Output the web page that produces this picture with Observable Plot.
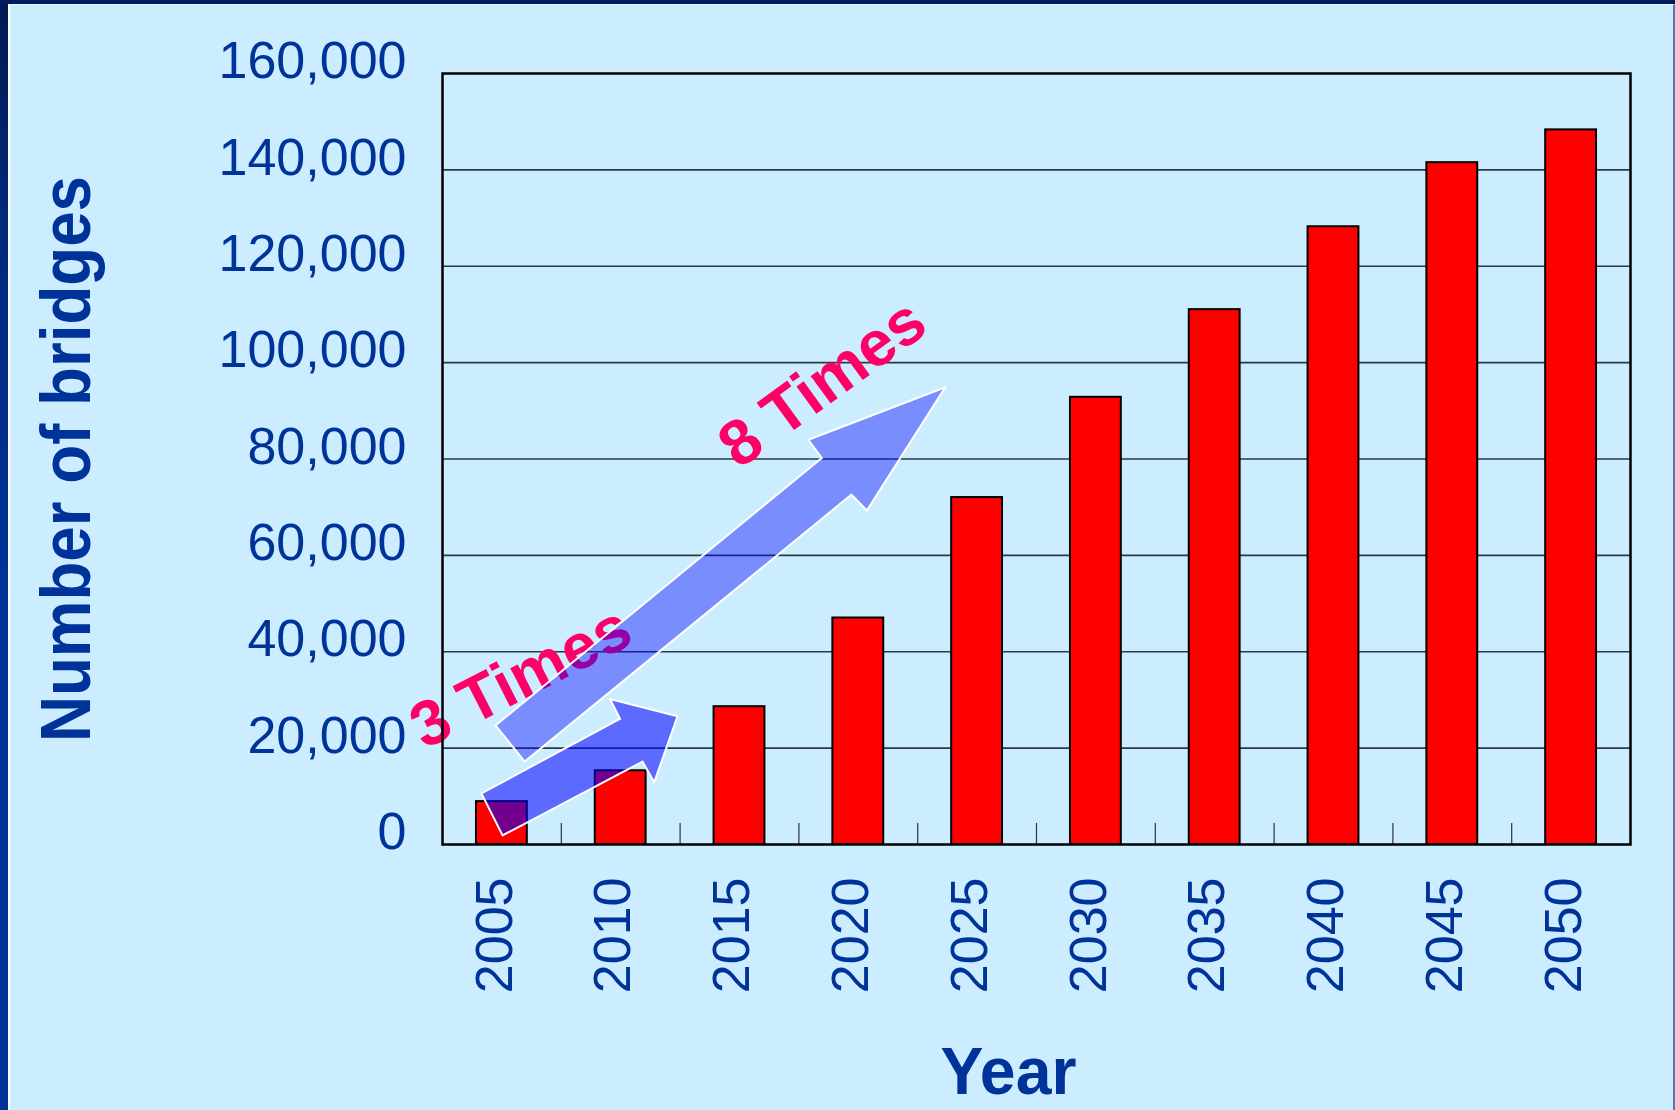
<!DOCTYPE html>
<html><head><meta charset="utf-8">
<script src="https://cdn.jsdelivr.net/npm/d3@7"></script>
<script src="https://cdn.jsdelivr.net/npm/@observablehq/plot@0.6"></script>
<style>
html,body{margin:0;padding:0;background:#CCECFF;}
#wrap{position:relative;width:1675px;height:1110px;overflow:hidden;
  background:linear-gradient(to bottom,#001a50 0%,#00297a 20%,#003399 55%,#003399 100%);}
#panel{position:absolute;left:8px;top:4px;right:0;bottom:0;background:#CCECFF;
  border-left:2px solid #ffffff;border-top:1px solid #e8f4ff;border-right:2px solid #5a78b0;box-sizing:border-box;}
#topband{position:absolute;left:0;top:0;right:0;height:4px;background:#001f5c;}
#chart{position:absolute;left:0;top:0;}
</style></head><body>
<div id="wrap"><div id="topband"></div><div id="panel"></div><div id="chart"></div></div>
<script>
// ---- data ----
const years   = [2005, 2010, 2015, 2020, 2025, 2030, 2035, 2040, 2045, 2050];
const bridges = [8900, 15300, 28600, 47000, 72000, 92800, 111000, 128200, 141500, 148300];
const yTicks  = [0, 20000, 40000, 60000, 80000, 100000, 120000, 140000, 160000];
const gridValues = [20000, 40000, 60000, 80000, 100000, 120000, 140000];
const tickBoundaries = [2007.5, 2012.5, 2017.5, 2022.5, 2027.5, 2032.5, 2037.5, 2042.5, 2047.5];

// block arrows (outline vertices in year / value units)
const bigArrowX   = [2004.73, 2018.46, 2017.90, 2023.66, 2020.36, 2019.71, 2005.96];
const bigArrowY   = [24700, 80200, 84000, 94900, 69300, 72600, 17200];
const smallArrowX = [2005.03, 2004.14, 2009.97, 2009.55, 2012.39, 2011.41, 2010.92];
const smallArrowY = [1900, 10600, 26100, 30200, 26600, 12900, 17200];

// annotation labels
const noteText  = ["3 Times", "8 Times"];
const noteX     = [2005.8, 2018.5];
const noteY     = [34600, 95600];
const noteAngle = [-27, -36];

const yTitle = "Number of bridges";
const xTitle = "Year";

// ---- build tables ----
const bars = years.map((y, i) => ({year: y, value: bridges[i]}));
const bigArrow = bigArrowX.map((x, i) => ({x, y: bigArrowY[i]}));
const smallArrow = smallArrowX.map((x, i) => ({x, y: smallArrowY[i]}));
const notes = noteText.map((t, i) => ({t, x: noteX[i], y: noteY[i], a: noteAngle[i]}));

const W = 1675, H = 1110;
const mTop = 73, mBottom = 266, mLeft = 442, mRight = 45;
const yMax = 160000;
const innerH = H - mTop - mBottom;
const tickLen = 21 * yMax / innerH;
const halfBar = 1.07;
const blue = "#003399";
const font = "'Liberation Sans', Arial, sans-serif";

const plot = Plot.plot({
  width: W, height: H,
  marginTop: mTop, marginBottom: mBottom, marginLeft: mLeft, marginRight: mRight,
  style: {background: "transparent", fontFamily: font, overflow: "visible"},
  x: {domain: [2002.5, 2052.5], axis: null},
  y: {domain: [0, yMax], axis: null},
  marks: [
    Plot.ruleY(gridValues, {stroke: "#2e3a40", strokeWidth: 1.6}),
    Plot.rectY(bars, {x1: d => d.year - halfBar, x2: d => d.year + halfBar, y1: 0, y2: "value",
      fill: "#FF0000", stroke: "#000", strokeWidth: 2}),
    Plot.ruleX(tickBoundaries, {y1: 0, y2: tickLen, stroke: "#333", strokeWidth: 1.2}),
    Plot.text([notes[0]], {x: "x", y: "y", text: "t", rotate: notes[0].a, fill: "#FF0066",
      fontWeight: "bold", fontSize: 64, textAnchor: "middle", lineAnchor: "middle"}),
    Plot.text([notes[1]], {x: "x", y: "y", text: "t", rotate: notes[1].a, fill: "#FF0066",
      fontWeight: "bold", fontSize: 64, textAnchor: "middle", lineAnchor: "middle"}),
    Plot.line(bigArrow, {x: "x", y: "y", curve: "linear-closed", fill: "blue", fillOpacity: 0.4,
      stroke: "white", strokeWidth: 2, strokeLinejoin: "miter", strokeMiterlimit: 10}),
    Plot.line(smallArrow, {x: "x", y: "y", curve: "linear-closed", fill: "blue", fillOpacity: 0.55,
      stroke: "white", strokeWidth: 2, strokeLinejoin: "miter", strokeMiterlimit: 10}),
    Plot.frame({stroke: "#000", strokeWidth: 2.5}),
    Plot.text(yTicks, {y: d => d, frameAnchor: "left", text: d => d3.format(",")(d),
      textAnchor: "end", dx: -36, dy: -12, fontSize: 52, fill: blue}),
    Plot.text(years, {x: d => d, frameAnchor: "bottom", text: d => String(d), rotate: -90,
      textAnchor: "end", lineAnchor: "middle", dx: -7, dy: 33, fontSize: 52, fill: blue}),
    Plot.text([yTitle], {frameAnchor: "left", text: d => d, rotate: -90, dx: -375,
      fontWeight: "bold", fontSize: 71, fill: blue, textAnchor: "middle", lineAnchor: "middle"}),
    Plot.text([xTitle], {frameAnchor: "bottom", text: d => d, dx: -28, dy: 228,
      fontWeight: "bold", fontSize: 66, fill: blue, textAnchor: "middle", lineAnchor: "middle"})
  ]
});

plot.querySelectorAll("text").forEach(t => {
  if (t.textContent === yTitle) { t.setAttribute("textLength", "566"); t.setAttribute("lengthAdjust", "spacingAndGlyphs"); }
  if (t.textContent === xTitle) { t.setAttribute("textLength", "136"); t.setAttribute("lengthAdjust", "spacingAndGlyphs"); }
});

document.getElementById("chart").appendChild(plot);
</script>
</body></html>
